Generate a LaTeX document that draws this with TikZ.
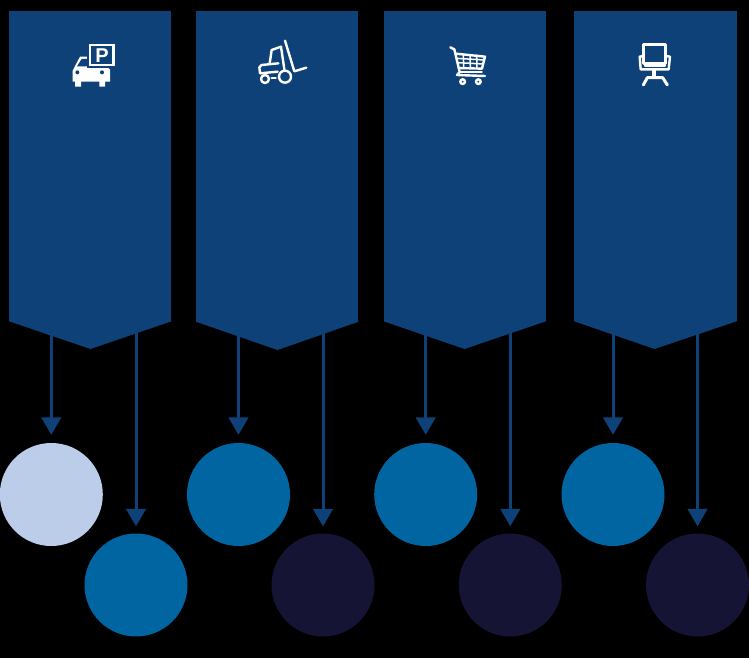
\documentclass[tikz,border=0pt]{standalone}
\usepackage{fontspec}
\setsansfont{Liberation Sans}
\usetikzlibrary{arrows.meta}
\definecolor{panelblue}{HTML}{0E4177}
\definecolor{midblue}{HTML}{0065A0}
\definecolor{lightblue}{HTML}{BBCDE9}
\definecolor{darkblue}{HTML}{151435}
\tikzset{
 panelbox/.style={fill=panelblue,draw=none,inner sep=0pt,minimum width=162.4pt,minimum height=310pt},
 disc/.style={circle,draw=none,inner sep=0pt,minimum size=103pt},
 discL/.style={disc,fill=lightblue},
 discM/.style={disc,fill=midblue},
 discD/.style={disc,fill=darkblue},
 flow/.style={draw=panelblue,line width=3pt,shorten >=8pt,-{Triangle[width=19.5pt,length=17.5pt,fill=panelblue]}},
 flowlong/.style={flow,shorten >=7pt},
 ico/.style={draw=white,line width=2.4pt,line join=round,line cap=round},
 icothin/.style={draw=white,line width=1.5pt},
}
\begin{document}
\begin{tikzpicture}[x=1pt,y=-1pt]
\useasboundingbox[fill=black] (0,0) rectangle (749,658);
% panels
\node[panelbox] (p1) at (90.25,166) {};
\node[panelbox] (p2) at (277.25,166.5) {};
\node[panelbox] (p3) at (464.75,166) {};
\node[panelbox] (p4) at (655.4,166) {};
\coordinate (t1) at (90.5,349);
\coordinate (t2) at (277.5,350);
\coordinate (t3) at (464.5,349);
\coordinate (t4) at (654.5,349);
\foreach \i in {1,2,3,4}{
  \fill[panelblue] (p\i.south west) -- (t\i) -- (p\i.south east) -- cycle;
}
% discs
\node[discL] (a1) at (51.3,494.5) {};
\node[discM] (b1) at (136,585) {};
\node[discM] (a2) at (238.5,494.5) {};
\node[discD] (b2) at (323,585) {};
\node[discM] (a3) at (425.7,494.5) {};
\node[discD] (b3) at (510.3,585) {};
\node[discM] (a4) at (613,494.5) {};
\node[discD] (b4) at (697.5,585) {};
% connectors
\foreach \i in {1,2,3,4}{
  \draw[flow] (a\i |- p\i.south) -- (a\i.north);
  \draw[flowlong] (b\i |- p\i.south) -- (b\i.north);
}
% parking icon
\begin{scope}[shift={(55,30)},scale=1/3]
  \fill[white] (53,155) -- (53,122) -- (58,112) -- (75,80) -- (110,80) -- (165,118) -- (165,155) -- (150,155) -- (150,170) -- (133,170) -- (133,155) -- (78,155) -- (78,170) -- (60,170) -- (60,155) -- cycle;
  \fill[panelblue] (66,109) -- (80,87) -- (110,87) -- (110,109) -- cycle;
  \fill[panelblue] (67,127) circle (6);
  \fill[panelblue] (141,127) circle (6);
  \fill[panelblue] (96,38) rectangle (186,114);
  \draw[white,line width=2.8pt,fill=panelblue] (105,45) rectangle (176,105);
  \node[text=white,font=\sffamily\bfseries\fontsize{20}{20}\selectfont,inner sep=0pt] (plabel) at (141,76) {P};
\end{scope}
% forklift icon
\begin{scope}[shift={(245,30)},scale=1/3]
  \draw[ico] (120,32) -- (148,124) -- (184,113);
  \draw[ico] (74,100) -- (80,60) -- (108,50) -- (118,118);
  \draw[ico] (98,125) -- (45,130) -- (43,112) -- (50,105) -- (100,100);
  \draw[ico] (60,147) circle (12);
  \draw[ico] (120,140) circle (18);
  \draw[ico] (80,144) -- (92,144);
\end{scope}
% cart icon
\begin{scope}[shift={(435,30)},scale=1/3]
  \draw[ico] (46,52) -- (58,58) -- (74,126) -- (66,135) -- (150,138);
  \draw[ico] (74,126) -- (140,126);
  \draw[ico] (62,71) -- (150,80) -- (141,116) -- (71,114);
  \foreach \x in {85,105,125}{\draw[icothin] (\x,74) -- (\x+1,115);}
  \draw[icothin] (65,85) -- (147,90);
  \draw[icothin] (68,98) -- (145,102);
  \draw[ico] (83,155) circle (7);
  \draw[ico] (130,155) circle (7);
\end{scope}
% chair icon
\begin{scope}[shift={(620,30)},scale=1/3]
  \draw[ico] (70,44) rectangle (137,100);
  \draw[ico] (70,78) -- (59,80) -- (62,118) -- (146,118) -- (150,80) -- (137,78);
  \draw[ico] (75,106) -- (135,106);
  \draw[white,line width=4pt] (103,120) -- (103,140);
  \draw[ico,line width=3pt] (70,165) -- (82,143) -- (128,143) -- (142,165);
\end{scope}
\end{tikzpicture}
\end{document}
